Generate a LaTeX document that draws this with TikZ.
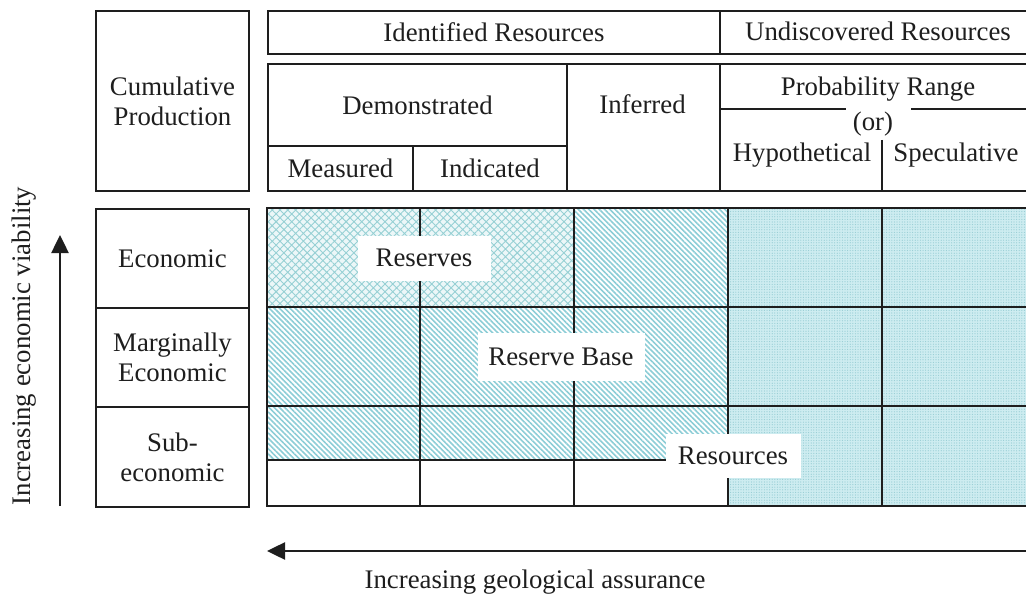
\documentclass[tikz,border=0pt]{standalone}
\usepackage{fontspec}
\setmainfont{Liberation Serif}
\usetikzlibrary{patterns.meta,arrows.meta}
\definecolor{stripe}{RGB}{140,205,214}
\definecolor{hatchc}{RGB}{150,208,212}
\definecolor{hatchbg}{RGB}{236,247,248}
\definecolor{dotbg}{RGB}{205,236,240}
\definecolor{dotc}{RGB}{150,205,212}
\definecolor{ink}{RGB}{30,30,30}
\begin{document}
\begin{tikzpicture}[x=1pt,y=-1pt,
  every node/.style={font=\fontsize{26.8}{30}\selectfont, text=ink},
  box/.style={draw=ink, line width=2pt, anchor=north west, inner sep=0pt, align=center},
  lbl/.style={align=center, inner sep=0pt},
  wlab/.style={fill=white, inner sep=0pt},
  gridln/.style={draw=ink, line width=2.2pt},
  arr/.style={draw=ink, line width=2.5pt, -{Triangle[length=18pt,width=17pt]}}]
\useasboundingbox (0,0) rectangle (1026,599);
\clip (0,0) rectangle (1026,599);
% header
\node[box, minimum width=153pt, minimum height=180pt] (cum) at (95,10) {Cumulative\\Production};
\node[box, minimum width=452pt, minimum height=43pt] (idr) at (267,10) {Identified Resources};
\node[box, minimum width=311pt, minimum height=43pt] (und) at (719,10) {};
\node[lbl] (undl) at (878,31.5) {Undiscovered Resources};
\node[box, minimum width=299pt, minimum height=82pt] (dem) at (267,63) {Demonstrated};
\node[box, minimum width=145pt, minimum height=45pt] (meas) at (267,145) {Measured};
\node[box, minimum width=154pt, minimum height=45pt] (ind) at (412,145) {Indicated};
\node[box, minimum width=153pt, minimum height=127pt] (infbox) at (566,63) {};
\node[lbl] (inf) at (642.5,104) {Inferred};
\node[box, minimum width=311pt, minimum height=127pt] (ubox) at (719,63) {};
\node[lbl] (prob) at (878,89) {Probability Range};
\node[lbl] (or) at (873,124) {(or)};
\node[lbl] (hyp) at (802,155) {Hypothetical};
\node[lbl] (spec) at (956,155) {Speculative};
\draw[gridln, line width=2pt] (719,109) -- (846,109);
\draw[gridln, line width=2pt] (911,109) -- (1030,109);
\draw[gridln, line width=2pt] (882,140) -- (882,190);
% left row labels
\node[box, minimum width=153pt, minimum height=99pt] (econ) at (95,208) {Economic};
\node[box, minimum width=153pt, minimum height=99pt] (marg) at (95,307) {Marginally\\Economic};
\node[box, minimum width=153pt, minimum height=100pt] (sub) at (95,406) {Sub-\\economic};
% fills
\fill[hatchbg] (267,208) rectangle (574,307);
\fill[pattern={Hatch[angle=45,distance=5.5pt,line width=0.9pt]}, pattern color=hatchc] (267,208) rectangle (574,307);
\fill[pattern={Lines[angle=-45,distance=3.7pt,line width=1.6pt]}, pattern color=stripe] (574,208) rectangle (728,307);
\fill[pattern={Lines[angle=-45,distance=3.7pt,line width=1.6pt]}, pattern color=stripe] (267,307) rectangle (728,460);
\fill[dotbg] (728,208) rectangle (1030,506);
\fill[pattern={Dots[distance=2.6pt,radius=0.6pt]}, pattern color=dotc] (728,208) rectangle (1030,506);
% grid
\draw[gridln] (267,208) rectangle (1030,506);
\draw[gridln] (267,307) -- (1030,307);
\draw[gridln] (267,406) -- (1030,406);
\draw[gridln] (267,460) -- (728,460);
\foreach \xx in {420,574,728,882} \draw[gridln] (\xx,208) -- (\xx,506);
% white labels
\node[wlab, minimum width=133pt, minimum height=45pt] (res) at (424,258) {Reserves};
\node[wlab, minimum width=167pt, minimum height=48pt] (rb) at (561,357) {Reserve Base};
\node[wlab, minimum width=135pt, minimum height=44pt] (rsc) at (733,456) {Resources};
% arrows
\coordinate (v0) at (60,506);
\coordinate (v1) at (60,235);
\draw[arr] (v0) -- (v1);
\node[rotate=90] (vl) at (24,346) {Increasing economic viability};
\coordinate (h0) at (1030,551);
\coordinate (h1) at (267,551);
\draw[arr] (h0) -- (h1);
\node (hl) at (535,582) {Increasing geological assurance};
\end{tikzpicture}
\end{document}
